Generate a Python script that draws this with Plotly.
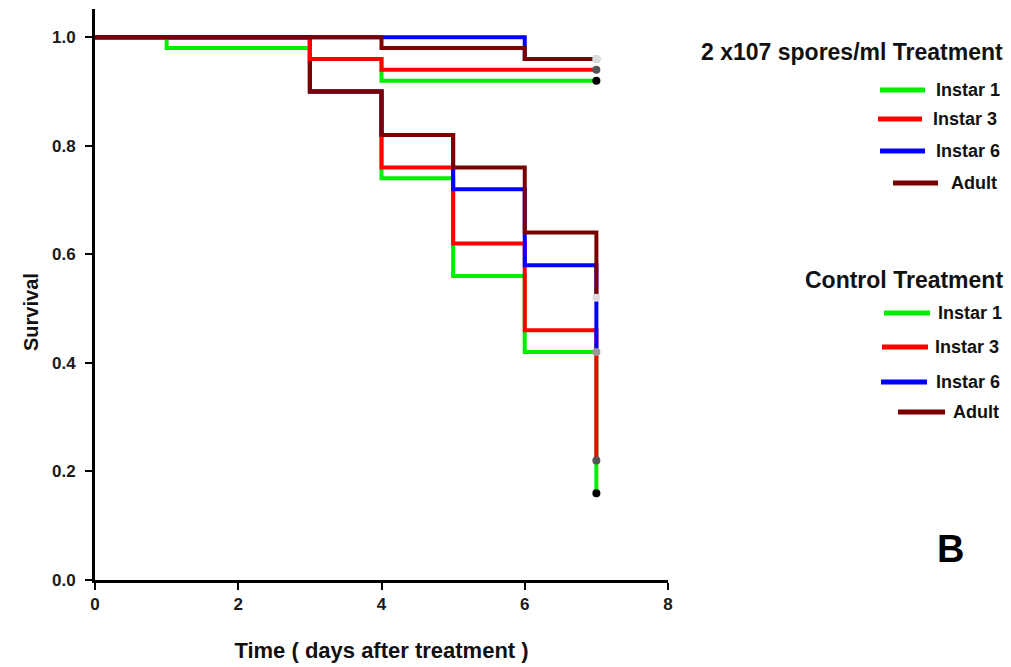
import plotly.graph_objects as go

# Days after treatment
days = [0, 1, 2, 3, 4, 5, 6, 7]

# Survival proportions, 2 x10^7 spores/ml treatment
trt_instar1 = [1.0, 1.0, 1.0, 0.90, 0.74, 0.56, 0.42, 0.16]
trt_instar3 = [1.0, 1.0, 1.0, 0.90, 0.76, 0.62, 0.46, 0.22]
trt_instar6 = [1.0, 1.0, 1.0, 0.90, 0.82, 0.72, 0.58, 0.42]
trt_adult = [1.0, 1.0, 1.0, 0.90, 0.82, 0.76, 0.64, 0.52]

# Survival proportions, control treatment
ctl_instar1 = [1.0, 0.98, 0.98, 0.96, 0.92, 0.92, 0.92, 0.92]
ctl_instar3 = [1.0, 1.0, 1.0, 0.96, 0.94, 0.94, 0.94, 0.94]
ctl_instar6 = [1.0, 1.0, 1.0, 1.0, 1.0, 1.0, 0.96, 0.96]
ctl_adult = [1.0, 1.0, 1.0, 1.0, 0.98, 0.98, 0.96, 0.96]

stage_names = ["Instar 1", "Instar 3", "Instar 6", "Adult"]
group_titles = ["2 x107 spores/ml Treatment", "Control Treatment"]

x_ticks = [0, 2, 4, 6, 8]
y_ticks = [0.0, 0.2, 0.4, 0.6, 0.8, 1.0]

line_colors = ["#00ee00", "#ff0000", "#0000ff", "#7a0000"]
end_colors = ["#000000", "#555555", "#999999", "#dddddd"]

FONT = "Liberation Sans, Arial, sans-serif"

fig = go.Figure()

groups = [
    [trt_instar1, trt_instar3, trt_instar6, trt_adult],
    [ctl_instar1, ctl_instar3, ctl_instar6, ctl_adult],
]

for series_set in groups:
    for surv, lc in zip(series_set, line_colors):
        fig.add_trace(go.Scatter(
            x=days, y=surv, mode="lines", line_shape="hv",
            line=dict(color=lc, width=4), showlegend=False,
            hoverinfo="skip",
        ))
# censoring dots at the end of each curve
for series_set in groups:
    for surv, ec in zip(series_set, end_colors):
        fig.add_trace(go.Scatter(
            x=[days[-1]], y=[surv[-1]], mode="markers",
            marker=dict(color=ec, size=8), showlegend=False,
            hoverinfo="skip",
        ))

# plot area in pixels
PL, PR, PT, PB = 95, 668, 9, 580


def px_x(p):
    return (p - PL) / (PR - PL)


def px_y(p):
    return (PB - p) / (PB - PT)


annotations = []
shapes = []

# custom legend blocks: title row, then one row per stage
legend_layout = [
    dict(title_y=52, rows=[(90, 880, 925, 1002), (119, 878, 922, 999),
                           (151, 880, 925, 1002), (183, 893, 938, 999)]),
    dict(title_y=280, rows=[(313, 884, 930, 1004), (347, 882, 928, 1001),
                            (382, 881, 927, 1002), (412, 898, 945, 1001)]),
]
for title, blk in zip(group_titles, legend_layout):
    annotations.append(dict(
        text=title, xref="paper", yref="paper", x=px_x(1005), y=px_y(blk["title_y"]),
        xanchor="right", yanchor="middle", showarrow=False,
        font=dict(family=FONT, size=23, color="#111", weight="bold"),
    ))
    for name, lc, (cy, lx0, lx1, tx) in zip(stage_names, line_colors, blk["rows"]):
        shapes.append(dict(
            type="line", xref="paper", yref="paper",
            x0=px_x(lx0), x1=px_x(lx1), y0=px_y(cy), y1=px_y(cy),
            line=dict(color=lc, width=5),
        ))
        annotations.append(dict(
            text=name, xref="paper", yref="paper", x=px_x(tx), y=px_y(cy),
            xanchor="right", yanchor="middle", showarrow=False,
            font=dict(family=FONT, size=18, color="#111", weight="bold"),
        ))

# y-axis title
annotations.append(dict(
    text="Survival", xref="paper", yref="paper", x=px_x(31), y=px_y(312),
    xanchor="center", yanchor="middle", showarrow=False, textangle=-90,
    font=dict(family=FONT, size=20, color="#111", weight="bold"),
))

# panel letter
annotations.append(dict(
    text="B", xref="paper", yref="paper", x=px_x(950), y=px_y(549),
    xanchor="center", yanchor="middle", showarrow=False,
    font=dict(family=FONT, size=38, color="#000", weight="bold"),
))

fig.update_layout(
    width=1011, height=667,
    margin=dict(l=PL, r=1011 - PR, t=PT, b=667 - PB),
    paper_bgcolor="white", plot_bgcolor="white",
    showlegend=False,
    annotations=annotations, shapes=shapes,
    font=dict(family=FONT, color="#111"),
)
fig.update_xaxes(
    range=[0, 8], tickvals=x_ticks, ticktext=[str(v) for v in x_ticks],
    showline=True, linecolor="black", linewidth=3, mirror=False,
    ticks="outside", ticklen=7, tickwidth=2, tickcolor="black",
    showgrid=False, zeroline=False, ticklabelstandoff=0, automargin=False,
    tickfont=dict(family=FONT, size=17, color="#1a1a1a", weight="bold"),
    title=dict(text="Time ( days after treatment )", standoff=30,
               font=dict(family=FONT, size=22, color="#111", weight="bold")),
)
fig.update_yaxes(
    range=[0, 1.052], tickvals=y_ticks, ticktext=[f"{v:.1f}" for v in y_ticks],
    showline=True, linecolor="black", linewidth=3, mirror=False,
    ticks="outside", ticklen=7, tickwidth=2, tickcolor="black",
    showgrid=False, zeroline=False, ticklabelstandoff=6, automargin=False,
    tickfont=dict(family=FONT, size=17, color="#1a1a1a", weight="bold"),
)

fig.write_html("out.html")
